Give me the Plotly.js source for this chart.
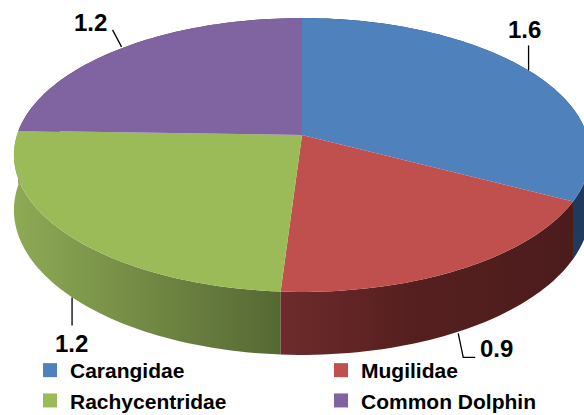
<!DOCTYPE html>
<html>
<head>
<meta charset="utf-8">
<script src="https://cdn.plot.ly/plotly-3.0.1.min.js"></script>
<style>html,body{margin:0;padding:0;background:#fff;}#chart{width:584px;height:415px;}</style>
</head>
<body>
<div id="chart"></div>
<script>
// ---- data ----
const categories = ['Carangidae', 'Mugilidae', 'Rachycentridae', 'Common Dolphin'];
const values = [1.6, 0.9, 1.2, 1.2];
const valueLabels = ['1.6', '0.9', '1.2', '1.2'];

// ---- styles ----
const topColors = ['#4F81BD', '#C0504D', '#9BBB59', '#8064A2'];
const sideScales = [
  [[0, '#1F3A5C'], [1, '#1F3A5C']],
  [[0, '#6E2B2B'], [0.45, '#561F1F'], [1, '#4C1C1C']],
  [[0, '#8EAA55'], [1, '#556833']],
  [[0, '#4D3C63'], [1, '#4D3C63']]
];
// projection of the tilted disk (pixel space)
const G = {cx: 302, cy: 135, A: 285, B: 134, k: 0.146, D: 53.8};
const W = 584, PH = 358;
const FONT = 'Liberation Sans';
// label placement per slice: which rim (0 top, 1 bottom), leader path offsets, text offset
const labelStyle = [
  {rim: 0, path: [[0, 0], [0, -25]], text: [-4, -41]},
  {rim: 1, path: [[-4, 3], [1, 27], [13, 27]], text: [34, 18]},
  {rim: 1, path: [[4, 3], [4, 31]], text: [3, 49]},
  {rim: 0, path: [[-1, -1], [-10, -18]], text: [-32, -25]}
];

function proj(t, h) {
  const u = Math.sin(t), v = -Math.cos(t);
  const d = 1 - G.k * v;
  return [G.cx + G.A * u / d, G.cy + (G.B * v + h * G.D) / d];
}
function arc(t1, t2, h) {
  const n = Math.max(4, Math.ceil(Math.abs(t2 - t1) / (Math.PI / 120)));
  const xs = [], ys = [];
  for (let i = 0; i <= n; i++) {
    const p = proj(t1 + (t2 - t1) * i / n, h);
    xs.push(p[0]); ys.push(p[1]);
  }
  return [xs, ys];
}

const total = values.reduce((a, b) => a + b, 0);
const starts = [], ends = [];
let acc = 0;
values.forEach(v => { starts.push(acc / total * 2 * Math.PI); acc += v; ends.push(acc / total * 2 * Math.PI); });

const sideTraces = [], topTraces = [], lineTraces = [], legendTraces = [];
const annotations = [];
const sideOrder = [3, 0, 2, 1];
sideOrder.forEach(i => {
  const a = arc(starts[i], ends[i], 0), b = arc(ends[i], starts[i], 1);
  sideTraces.push({
    type: 'scatter', mode: 'none', x: a[0].concat(b[0]), y: a[1].concat(b[1]),
    fill: 'toself', fillcolor: sideScales[i][0][1],
    fillgradient: {type: 'horizontal', colorscale: sideScales[i]},
    showlegend: false, hoverinfo: 'skip'
  });
});
values.forEach((v, i) => {
  const a = arc(starts[i], ends[i], 0);
  topTraces.push({
    type: 'scatter', mode: 'none',
    x: [G.cx].concat(a[0]).concat([G.cx]),
    y: [G.cy].concat(a[1]).concat([G.cy]),
    fill: 'toself', fillcolor: topColors[i],
    showlegend: false, hoverinfo: 'skip'
  });
  const mid = (starts[i] + ends[i]) / 2;
  const s = labelStyle[i];
  const p = proj(mid, s.rim);
  lineTraces.push({
    type: 'scatter', mode: 'lines',
    x: s.path.map(o => p[0] + o[0]), y: s.path.map(o => p[1] + o[1]),
    line: {color: '#000000', width: 1.3}, showlegend: false, hoverinfo: 'skip'
  });
  annotations.push({
    x: p[0] + s.text[0], y: p[1] + s.text[1], xref: 'x', yref: 'y',
    text: valueLabels[i], showarrow: false,
    font: {family: FONT, size: 24, color: '#000000', weight: 700}
  });
  legendTraces.push({
    type: 'scatter', mode: 'markers', x: [null], y: [null], name: categories[i],
    marker: {symbol: 'square', size: 14, color: topColors[i]}, hoverinfo: 'skip'
  });
});

const layout = {
  width: W, height: 415,
  margin: {l: 0, r: 0, t: 0, b: 415 - PH, autoexpand: false},
  paper_bgcolor: '#ffffff', plot_bgcolor: '#ffffff',
  xaxis: {range: [0, W], visible: false, fixedrange: true},
  yaxis: {range: [PH, 0], visible: false, fixedrange: true},
  showlegend: true,
  legend: {
    orientation: 'h', x: 30 / W, xanchor: 'left', y: 8 / PH, yanchor: 'top',
    entrywidth: 246, entrywidthmode: 'pixels', traceorder: 'normal',
    font: {family: FONT, size: 21, color: '#000000', weight: 700},
    bgcolor: 'rgba(0,0,0,0)', itemclick: false, itemdoubleclick: false
  },
  annotations: annotations
};

Plotly.newPlot('chart', sideTraces.concat(topTraces, lineTraces, legendTraces), layout, {staticPlot: true, displayModeBar: false});
</script>
</body>
</html>
